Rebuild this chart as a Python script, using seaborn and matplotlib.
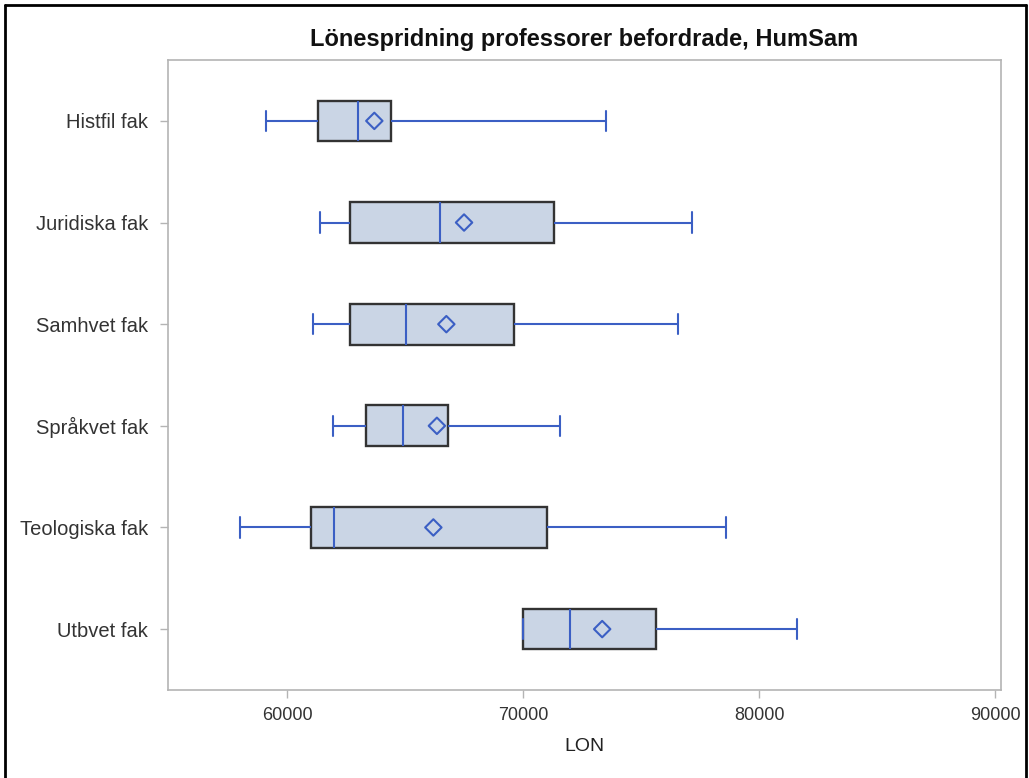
import pandas as pd
import matplotlib.pyplot as plt
import seaborn as sns
from matplotlib.lines import Line2D

# Five-number summaries (LON), plus means
categories = ["Histfil fak", "Juridiska fak", "Samhvet fak",
              "Språkvet fak", "Teologiska fak", "Utbvet fak"]
lon_min = [59100, 61400, 61100, 61950, 58000, 70000]
lon_q1 = [61300, 62650, 62650, 63350, 61000, 70000]
lon_median = [63000, 66500, 65050, 64900, 62000, 72000]
lon_q3 = [64400, 71300, 69600, 66800, 71000, 75650]
lon_max = [73500, 77150, 76550, 71550, 78600, 81600]
lon_mean = [63700, 67500, 66750, 66350, 66200, 73350]
x_ticks = [60000, 70000, 80000, 90000]

# long-form frame: with five points per group the quartiles land exactly on them
rows = []
for i, cat in enumerate(categories):
    for v in (lon_min[i], lon_q1[i], lon_median[i], lon_q3[i], lon_max[i]):
        rows.append({"FAK": cat, "LON": v})
df = pd.DataFrame(rows)
df_mean = pd.DataFrame({"FAK": categories, "LON": lon_mean})

sns.set_style("ticks")
plt.rcParams["font.family"] = ["Liberation Sans", "DejaVu Sans"]

fill = "#CAD5E5"
blue = "#3B5FC4"
edge = "#333333"
frame = "#B4B4B4"

fig, ax = plt.subplots(figsize=(10.29, 7.78), dpi=100)
fig.subplots_adjust(left=0.163, right=0.973, top=0.923, bottom=0.113)

sns.boxplot(data=df, x="LON", y="FAK", order=categories, orient="h",
            whis=(0, 100), width=0.4, color=fill, saturation=1,
            linecolor=blue, linewidth=1.5, showfliers=False,
            boxprops=dict(edgecolor=edge, linewidth=1.7),
            capwidths=0.2, ax=ax)

sns.scatterplot(data=df_mean, x="LON", y="FAK", marker="D", s=70,
                facecolor="none", edgecolor=blue, linewidth=1.5,
                zorder=5, ax=ax)

ax.set_xlim(54950, 90250)
ax.set_ylim(5.6, -0.6)
ax.set_xticks(x_ticks)
ax.set_xticklabels([str(t) for t in x_ticks])
ax.set_xlabel("LON", fontsize=14, color="#222222", labelpad=10)
ax.set_ylabel("")
ax.tick_params(axis="both", colors="#333333", length=6, width=1, pad=6)
ax.tick_params(axis="x", labelsize=13)
ax.tick_params(axis="y", labelsize=14.5, pad=8)
ax.tick_params(axis="both", color=frame)
for s in ax.spines.values():
    s.set_visible(True)
    s.set_color(frame)
    s.set_linewidth(1.2)

ax.set_title("Lönespridning professorer befordrade, HumSam",
             fontsize=17, fontweight="bold", color="#111111", pad=10)

# black outer border of the original screenshot (open at the bottom)
for xs, ys in [((0.005, 0.005), (0.0, 0.994)),
               ((0.005, 0.997), (0.994, 0.994)),
               ((0.997, 0.997), (0.994, 0.0))]:
    fig.add_artist(Line2D(xs, ys, color="black", linewidth=2,
                          transform=fig.transFigure))

plt.savefig("out.png", dpi=100)
plt.close()
